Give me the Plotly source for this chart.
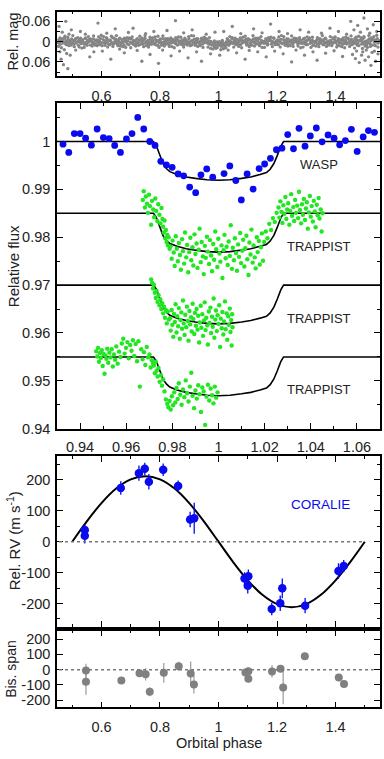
import plotly.graph_objects as go

FONT = "Liberation Sans, Arial, sans-serif"

# ---------------- Panel 1: WASP raw photometry (phase x1000, dmag in mmag)
wasp_phase_milli = [
    451, 454, 457, 459, 462, 465, 468, 470, 474, 477, 479, 482, 485, 487, 490, 493,
    495, 498, 501, 503, 506, 509, 512, 514, 518, 521, 523, 526, 529, 531, 534, 537,
    539, 542, 545, 547, 550, 553, 556, 558, 562, 565, 567, 570, 573, 575, 578, 581,
    583, 586, 589, 591, 594, 597, 600, 602, 606, 609, 611, 614, 617, 619, 622, 625,
    627, 630, 633, 635, 638, 641, 644, 646, 650, 653, 655, 658, 661, 663, 666, 669,
    671, 674, 677, 679, 682, 685, 688, 690, 694, 697, 699, 702, 705, 707, 710, 713,
    715, 718, 721, 723, 726, 729, 732, 734, 738, 741, 743, 746, 749, 751, 754, 757,
    759, 762, 765, 767, 770, 773, 776, 778, 782, 785, 787, 790, 793, 795, 798, 801,
    803, 806, 809, 811, 814, 817, 820, 822, 826, 829, 831, 834, 837, 839, 842, 845,
    847, 850, 853, 855, 858, 861, 864, 866, 870, 873, 875, 878, 881, 883, 886, 889,
    891, 894, 897, 899, 902, 905, 908, 910, 914, 917, 919, 922, 925, 927, 930, 933,
    935, 938, 941, 943, 946, 949, 952, 954, 958, 961, 963, 966, 969, 971, 974, 977,
    979, 982, 985, 987, 990, 993, 996, 998, 1002, 1005, 1007, 1010, 1013, 1015, 1018, 1021,
    1023, 1026, 1029, 1031, 1034, 1037, 1040, 1042, 1046, 1049, 1051, 1054, 1057, 1059, 1062, 1065,
    1067, 1070, 1073, 1075, 1078, 1081, 1084, 1086, 1090, 1093, 1095, 1098, 1101, 1103, 1106, 1109,
    1111, 1114, 1117, 1119, 1122, 1125, 1128, 1130, 1134, 1137, 1139, 1142, 1145, 1147, 1150, 1153,
    1155, 1158, 1161, 1163, 1166, 1169, 1172, 1174, 1178, 1181, 1183, 1186, 1189, 1191, 1194, 1197,
    1199, 1202, 1205, 1207, 1210, 1213, 1216, 1218, 1222, 1225, 1227, 1230, 1233, 1235, 1238, 1241,
    1243, 1246, 1249, 1251, 1254, 1257, 1260, 1262, 1266, 1269, 1271, 1274, 1277, 1279, 1282, 1285,
    1287, 1290, 1293, 1295, 1298, 1301, 1304, 1306, 1310, 1313, 1315, 1318, 1321, 1323, 1326, 1329,
    1331, 1334, 1337, 1339, 1342, 1345, 1348, 1350, 1354, 1357, 1359, 1362, 1365, 1367, 1370, 1373,
    1375, 1378, 1381, 1383, 1386, 1389, 1392, 1394, 1398, 1401, 1403, 1406, 1409, 1411, 1414, 1417,
    1419, 1422, 1425, 1427, 1430, 1433, 1436, 1438, 1442, 1445, 1447, 1450, 1453, 1455, 1458, 1461,
    1463, 1466, 1469, 1471, 1474, 1477, 1480, 1482, 1486, 1489, 1491, 1494, 1497, 1499, 1502, 1505,
    1507, 1510, 1513, 1515, 1518, 1521, 1524, 1526, 1530, 1533, 1535, 1538, 1541, 1543, 1546, 1549,
]
wasp_dmag_mmag = [
    3, -5, 1, 8, -2, -7, 4, 0, -10, 6, -3, 2, 9, -6, 1, -1,
    5, -8, 3, -4, 7, -2, -9, 4, 0, 11, -5, 2, -3, 6, -1, -6,
    3, 8, -11, 2, 5, -4, 1, -7, 10, -3, 0, 6, -8, 4, -2, 9,
    -5, 1, -4, 7, -1, -9, 3, 12, -6, 2, 5, -2, 1, -8, 6, -3,
    9, -5, 0, 4, -12, 7, 5, -1, -7, 2, 8, -4, 3, -10, 6, 0,
    -6, 4, 11, -2, -5, 1, 7, -3, 9, -8, 2, -9, 5, 0, -4, 10,
    -1, 6, -7, 3, 4, -3, -6, 8, 1, -2, 7, -5, -10, 3, 0, 5,
    -4, 9, 2, -7, 6, -1, -3, 4, 8, -6, 1, -2, 11, -4, 3, -8,
    0, 5, -9, 2, 6, -3, -1, 7, -5, 3, 10, -6, 1, 4, -2, -7,
    2, -4, 6, 0, -8, 9, -3, 1, 7, -1, -5, 4, -2, 8, -6, 3,
    -3, 6, 1, -9, 5, -1, 10, -4, 4, -7, 2, 6, -3, 0, -8, 5,
    1, 9, -4, -1, 7, -6, 3, -2, -8, 2, 5, -3, 8, 1, -1, 10,
    8, 4, 15, 6, 11, 2, 17, 9, 3, 11, 7, 14, 1, 10, 5, 13,
    10, 1, 8, -6, 1, -3, 6, 0, -9, 5, 2, -4, 7, -1, 3, -6,
    6, 0, -3, 9, -5, 4, -2, 1, -1, -7, 5, 2, -4, 10, -6, 3,
    8, -3, 0, -8, 4, 1, -5, 7, -2, 6, -9, 3, 5, -4, 0, -1,
    5, -1, 4, -6, 2, 8, -3, -7, -4, 7, 1, 0, -10, 3, 6, -2,
    2, -5, 9, -3, 1, -7, 4, 6, -6, 3, -2, 8, -1, 5, -8, 0,
    10, -4, 3, -5, 6, -2, 1, -9, -3, 1, 7, -1, -6, 4, -4, 5,
    4, -8, 0, 6, 2, -3, 9, -5, -7, 5, -2, 3, -4, 11, -1, 2,
    1, -3, 6, -7, 8, 0, -5, 4, -2, 9, -6, 1, 3, -8, 5, -1,
    6, -2, 4, -4, 0, 7, -9, 2, -5, 3, -1, 10, -3, 1, 4, -6,
    3, -6, 8, -2, 5, -4, 0, 7, -8, 4, 1, -3, 9, -7, 2, -1,
    5, -9, -2, 6, -5, 3, 12, -4, -3, 7, -6, 2, -11, 8, -1, 4,
    9, -4, 3, -8, 6, -2, -7, 10, -6, 2, 11, -5, 1, -9, 4, -3,
]
# wider-scatter points of the band
wasp_wide_phase_milli = [
    453, 458, 463, 467, 475, 480, 485, 489, 497, 502, 507, 511, 519, 524, 529, 533,
    541, 546, 551, 555, 563, 568, 573, 577, 585, 590, 595, 599, 607, 612, 617, 621,
    629, 634, 639, 643, 651, 656, 661, 665, 673, 678, 683, 687, 695, 700, 705, 709,
    717, 722, 727, 731, 739, 744, 749, 753, 761, 766, 771, 775, 783, 788, 793, 797,
    805, 810, 815, 819, 827, 832, 837, 841, 849, 854, 859, 863, 871, 876, 881, 885,
    893, 898, 903, 907, 915, 920, 925, 929, 937, 942, 947, 951, 959, 964, 969, 973,
    981, 986, 991, 995, 1003, 1008, 1013, 1017, 1025, 1030, 1035, 1039, 1047, 1052, 1057, 1061,
    1069, 1074, 1079, 1083, 1091, 1096, 1101, 1105, 1113, 1118, 1123, 1127, 1135, 1140, 1145, 1149,
    1157, 1162, 1167, 1171, 1179, 1184, 1189, 1193, 1201, 1206, 1211, 1215, 1223, 1228, 1233, 1237,
    1245, 1250, 1255, 1259, 1267, 1272, 1277, 1281, 1289, 1294, 1299, 1303, 1311, 1316, 1321, 1325,
    1333, 1338, 1343, 1347, 1355, 1360, 1365, 1369, 1377, 1382, 1387, 1391, 1399, 1404, 1409, 1413,
    1421, 1426, 1431, 1435, 1443, 1448, 1453, 1457, 1465, 1470, 1475, 1479, 1487, 1492, 1497, 1501,
    1509, 1514, 1519, 1523, 1531, 1536, 1541, 1545,
]
wasp_wide_dmag_mmag = [
    14, -11, 18, -9, -16, 9, -13, 12, 10, -18, 15, -8, -12, 16, -10, 19,
    17, -9, 11, -15, -8, 13, -17, 10, 12, -14, 9, -19, -15, 11, -12, 16,
    9, -16, 14, -10, -18, 12, -9, 13, 15, -10, 17, -12, -11, 18, -14, 8,
    13, -9, 11, -16, -10, 15, -18, 12, 16, -13, 8, -11, -14, 10, -16, 17,
    11, -17, 13, -9, -9, 14, -11, 15, 18, -12, 10, -14, -13, 9, 16, -10,
    10, -15, 12, -18, -17, 11, -9, 14, 12, -10, 17, -13, -8, 16, -12, 20,
    22, -2, 20, 1, 0, 24, -4, 21, 18, -9, 11, -15, -12, 16, -10, 9,
    14, -11, 18, -13, -16, 10, -9, 15, 11, -18, 13, -10, -10, 12, -15, 17,
    17, -9, 10, -12, -13, 15, -11, 9, 9, -14, 16, -18, -15, 11, -8, 13,
    12, -17, 14, -10, -9, 13, -12, 18, 16, -10, 9, -14, -11, 17, -13, 10,
    13, -12, 15, -9, -18, 9, -10, 14, 10, -15, 12, -11, -14, 16, -9, 12,
    15, -11, 18, -13, -10, 14, -17, 9, 19, -13, 11, -16, -12, 20, -15, 13,
    17, -18, 14, -11, -15, 12, -19, 16,
]
wasp_out_phase_milli = [
    455, 458, 462, 466, 470, 473, 478, 481, 485, 489, 493, 497,
    512, 528, 545, 560, 574, 588, 603, 618, 632, 647, 662, 678, 692,
    708, 722, 738, 751, 766, 779, 795, 809, 824, 838, 853, 867, 881, 896, 910, 925, 942, 958, 973, 988,
    1004, 1018, 1033, 1047, 1062, 1076, 1091, 1105, 1120, 1134, 1149, 1163, 1178, 1192, 1207, 1221,
    1236, 1250, 1265, 1279, 1294, 1308, 1323, 1337, 1352, 1366, 1381, 1395, 1410, 1424, 1438,
    1452, 1458, 1463, 1468, 1472, 1476, 1481, 1485, 1489, 1493, 1497, 1501, 1505, 1509, 1513, 1517,
    1521, 1525, 1529, 1533, 1537, 1541, 1545,
]
wasp_out_dmag_mmag = [
    -45, 30, 52, -28, 68, 24, -60, 35, 80, -22, 40, -35,
    25, -30, -22, 45, 30, -55, 28, -25, 52, -38, 22, 33, -27,
    -40, 26, 58, -24, 38, -30, 64, 25, -33, 42, -62, 28, -26, 48, -35, 30, 58, -22, 36, -28,
    40, -30, 25, -45, 33, -24, 52, 26, -38, 30, -26, 45, -52, 28, -30, 36,
    -24, 60, 25, -35, 40, -28, 30, 55, -25, 34, -40, 27, -30, 44, -22,
    -60, 38, -35, 50, 28, -48, 62, -28, 40, 30, -70, 55, 25, -38, 45, -25,
    70, 32, -50, 28, 58, -30, 36,
]

# ---------------- Panel 2: WASP binned transit
wasp_bin_phase = [
    0.9326, 0.9351, 0.9375, 0.9400, 0.9424, 0.9449, 0.9474, 0.9501, 0.9526, 0.9550,
    0.9575, 0.9601, 0.9625, 0.9650, 0.9676, 0.9702, 0.9725, 0.9750, 0.9774, 0.9799,
    0.9825, 0.9849, 0.9875, 0.9901, 0.9924, 0.9949, 0.9975, 1.0024, 1.0049, 1.0075,
    1.0099, 1.0124, 1.0150, 1.0176, 1.0200, 1.0225, 1.0251, 1.0275, 1.0300, 1.0325,
    1.0349, 1.0375, 1.0398, 1.0424, 1.0449, 1.0475, 1.0501, 1.0525, 1.0550, 1.0576,
    1.0601, 1.0627, 1.0650, 1.0676,
]
wasp_bin_flux = [
    0.99944, 0.99772, 1.00165, 1.00165, 1.00068, 0.99923, 1.00261, 1.00082, 1.00061, 0.99917,
    0.99772, 1.00054, 1.00165, 1.00503, 1.00261, 1.00000, 0.99917, 0.99586, 0.99510, 0.99461,
    0.99323, 0.99282, 0.99048, 0.98930, 0.99303, 0.99427, 0.99254, 0.99330, 0.99489, 0.99185,
    0.98779, 0.99323, 0.99006, 0.99434, 0.99530, 0.99648, 0.99827, 0.99861, 1.00144, 0.99848,
    1.00275, 0.99903, 1.00117, 1.00282, 0.99992, 1.00137, 1.00068, 0.99930, 1.00020, 1.00254,
    0.99792, 1.00096, 1.00227, 1.00192,
]

# transit model (depth below each baseline)
model_phase = [0.930, 0.9718, 0.9730, 0.9745, 0.9760, 0.9775, 0.9789, 0.9820, 0.9860, 0.9900,
               0.9950, 1.0000, 1.0050, 1.0100, 1.0140, 1.0180, 1.0208, 1.0224, 1.0240, 1.0255,
               1.0270, 1.0282, 1.070]
model_depth = [0.0, 0.0, 0.0008, 0.0029, 0.0047, 0.0057, 0.0063, 0.0069, 0.0074, 0.0077,
               0.0080, 0.0081, 0.0080, 0.0077, 0.0074, 0.0069, 0.0065, 0.0058, 0.0046, 0.0029,
               0.0010, 0.0, 0.0]
baselines = [1.000, 0.985, 0.970, 0.955]
labels = ["WASP", "TRAPPIST", "TRAPPIST", "TRAPPIST"]
label_flux = [0.99516, 0.97813, 0.9631, 0.9481]

# TRAPPIST light curve 1
t1_phase = [
    0.9672, 0.9676, 0.9681, 0.9685, 0.9690, 0.9694, 0.9699, 0.9703, 0.9708, 0.9712,
    0.9717, 0.9721, 0.9726, 0.9730, 0.9735, 0.9739, 0.9744, 0.9748, 0.9753, 0.9757,
    0.9760, 0.9763, 0.9766, 0.9769, 0.9772, 0.9775, 0.9778, 0.9781, 0.9784, 0.9788,
    0.9792, 0.9797, 0.9801, 0.9806, 0.9810, 0.9815, 0.9819, 0.9824, 0.9828, 0.9833,
    0.9837, 0.9842, 0.9846, 0.9851, 0.9855, 0.9860, 0.9864, 0.9869, 0.9873, 0.9878,
    0.9882, 0.9887, 0.9891, 0.9896, 0.9900, 0.9905, 0.9909, 0.9914, 0.9918, 0.9923,
    0.9927, 0.9932, 0.9936, 0.9941, 0.9945, 0.9950, 0.9954, 0.9959, 0.9963, 0.9968,
    0.9972, 0.9977, 0.9981, 0.9986, 0.9990, 0.9995, 0.9999, 1.0004, 1.0008, 1.0013,
    1.0017, 1.0022, 1.0026, 1.0031, 1.0035, 1.0040, 1.0044, 1.0049, 1.0053, 1.0058,
    1.0062, 1.0067, 1.0071, 1.0076, 1.0080, 1.0085, 1.0089, 1.0094, 1.0098, 1.0103,
    1.0107, 1.0112, 1.0116, 1.0121, 1.0125, 1.0130, 1.0134, 1.0139, 1.0143, 1.0148,
    1.0152, 1.0157, 1.0161, 1.0166, 1.0170, 1.0175, 1.0179, 1.0184, 1.0188, 1.0193,
    1.0198, 1.0205, 1.0212, 1.0220, 1.0228, 1.0236, 1.0244, 1.0252,
    1.0260, 1.0264, 1.0268, 1.0273, 1.0277, 1.0281, 1.0285, 1.0290, 1.0294, 1.0298,
    1.0302, 1.0307, 1.0311, 1.0315, 1.0319, 1.0324, 1.0328, 1.0332, 1.0336, 1.0341,
    1.0345, 1.0349, 1.0353, 1.0358, 1.0362, 1.0366, 1.0370, 1.0375, 1.0379, 1.0383,
    1.0387, 1.0392, 1.0396, 1.0400, 1.0404, 1.0409, 1.0413, 1.0417, 1.0421, 1.0426,
    1.0430, 1.0434, 1.0438, 1.0443, 1.0447, 1.0451,
]
t1_flux = [
    0.9878, 0.9896, 0.9862, 0.9885, 0.9870, 0.9851, 0.9889, 0.9865, 0.9826, 0.9876,
    0.9858, 0.9842, 0.9881, 0.9855, 0.9834, 0.9869, 0.9847, 0.9829, 0.9861, 0.9838,
    0.9822, 0.9810, 0.9835, 0.9798, 0.9815, 0.9790, 0.9805, 0.9783, 0.9800, 0.9776,
    0.9781, 0.9755, 0.9793, 0.9768, 0.9740, 0.9802, 0.9776, 0.9750, 0.9788, 0.9763,
    0.9732, 0.9796, 0.9771, 0.9745, 0.9810, 0.9758, 0.9784, 0.9727, 0.9769, 0.9799,
    0.9752, 0.9779, 0.9741, 0.9806, 0.9765, 0.9787, 0.9736, 0.9774, 0.9818, 0.9748,
    0.9790, 0.9760, 0.9723, 0.9782, 0.9757, 0.9801, 0.9770, 0.9744, 0.9794, 0.9762,
    0.9729, 0.9786, 0.9753, 0.9812, 0.9775, 0.9738, 0.9797, 0.9766, 0.9749, 0.9783,
    0.9715, 0.9773, 0.9805, 0.9756, 0.9780, 0.9742, 0.9791, 0.9761, 0.9825, 0.9734,
    0.9778, 0.9752, 0.9798, 0.9767, 0.9730, 0.9785, 0.9759, 0.9809, 0.9746, 0.9772,
    0.9795, 0.9739, 0.9777, 0.9803, 0.9754, 0.9721, 0.9789, 0.9764, 0.9816, 0.9747,
    0.9783, 0.9758, 0.9735, 0.9800, 0.9769, 0.9792, 0.9743, 0.9779, 0.9808, 0.9751,
    0.9790, 0.9812, 0.9798, 0.9828, 0.9815, 0.9840, 0.9832, 0.9851,
    0.9862, 0.9841, 0.9875, 0.9853, 0.9830, 0.9867, 0.9849, 0.9884, 0.9838, 0.9858,
    0.9871, 0.9826, 0.9855, 0.9890, 0.9845, 0.9863, 0.9834, 0.9878, 0.9851, 0.9866,
    0.9840, 0.9895, 0.9857, 0.9829, 0.9869, 0.9847, 0.9880, 0.9836, 0.9860, 0.9873,
    0.9818, 0.9852, 0.9886, 0.9843, 0.9865, 0.9833, 0.9876, 0.9854, 0.9821, 0.9868,
    0.9846, 0.9882, 0.9839, 0.9858, 0.9812, 0.9850,
]

# TRAPPIST light curve 2
t2_phase = [
    0.9708, 0.9712, 0.9716, 0.9720, 0.9724, 0.9728, 0.9732, 0.9736, 0.9740, 0.9744,
    0.9748, 0.9752, 0.9756, 0.9760, 0.9764, 0.9768, 0.9772, 0.9776, 0.9780, 0.9785,
    0.9790, 0.9793, 0.9797, 0.9800, 0.9804, 0.9807, 0.9811, 0.9814, 0.9818, 0.9821,
    0.9825, 0.9828, 0.9832, 0.9835, 0.9839, 0.9842, 0.9846, 0.9849, 0.9853, 0.9856,
    0.9860, 0.9863, 0.9867, 0.9870, 0.9874, 0.9877, 0.9881, 0.9884, 0.9888, 0.9891,
    0.9895, 0.9898, 0.9902, 0.9905, 0.9909, 0.9912, 0.9916, 0.9919, 0.9923, 0.9926,
    0.9930, 0.9933, 0.9937, 0.9940, 0.9944, 0.9947, 0.9951, 0.9954, 0.9958, 0.9961,
    0.9965, 0.9968, 0.9972, 0.9975, 0.9979, 0.9982, 0.9986, 0.9989, 0.9993, 0.9996,
    1.0000, 1.0003, 1.0007, 1.0010, 1.0014, 1.0017, 1.0021, 1.0024, 1.0028, 1.0031,
    1.0035, 1.0038, 1.0042, 1.0045, 1.0049, 1.0052, 1.0055, 1.0057, 1.0059, 1.0061,
]
t2_flux = [
    0.9712, 0.9705, 0.9693, 0.9701, 0.9684, 0.9673, 0.9688, 0.9665, 0.9679, 0.9658,
    0.9670, 0.9650, 0.9662, 0.9641, 0.9655, 0.9632, 0.9648, 0.9620, 0.9645, 0.9628,
    0.9631, 0.9605, 0.9648, 0.9617, 0.9592, 0.9640, 0.9623, 0.9660, 0.9601, 0.9635,
    0.9614, 0.9652, 0.9588, 0.9627, 0.9643, 0.9609, 0.9668, 0.9620, 0.9596, 0.9638,
    0.9612, 0.9655, 0.9625, 0.9584, 0.9646, 0.9618, 0.9633, 0.9603, 0.9661, 0.9629,
    0.9598, 0.9642, 0.9615, 0.9650, 0.9607, 0.9636, 0.9580, 0.9622, 0.9657, 0.9611,
    0.9639, 0.9594, 0.9626, 0.9664, 0.9606, 0.9632, 0.9616, 0.9576, 0.9645, 0.9621,
    0.9653, 0.9600, 0.9634, 0.9613, 0.9672, 0.9590, 0.9628, 0.9647, 0.9604, 0.9637,
    0.9619, 0.9658, 0.9571, 0.9630, 0.9610, 0.9644, 0.9597, 0.9624, 0.9666, 0.9608,
    0.9641, 0.9586, 0.9635, 0.9617, 0.9651, 0.9602, 0.9627, 0.9574, 0.9639, 0.9612,
]

# TRAPPIST light curve 3
t3_phase = [
    0.9470, 0.9474, 0.9478, 0.9482, 0.9486, 0.9490, 0.9494, 0.9498, 0.9502, 0.9506,
    0.9510, 0.9514, 0.9518, 0.9522, 0.9527, 0.9532, 0.9537, 0.9542, 0.9547, 0.9552,
    0.9557, 0.9563, 0.9569, 0.9575, 0.9581, 0.9587, 0.9593, 0.9599, 0.9605, 0.9611,
    0.9617, 0.9623, 0.9629, 0.9635, 0.9641, 0.9647, 0.9653, 0.9659, 0.9665, 0.9671,
    0.9677, 0.9683, 0.9689, 0.9695, 0.9701, 0.9706, 0.9711, 0.9716,
    0.9720, 0.9724, 0.9728, 0.9732, 0.9736, 0.9740, 0.9745, 0.9750, 0.9755, 0.9760,
    0.9766, 0.9772, 0.9778, 0.9783, 0.9788, 0.9793, 0.9798, 0.9803, 0.9808, 0.9813,
    0.9818, 0.9823, 0.9828, 0.9834, 0.9840, 0.9846, 0.9852, 0.9858, 0.9864, 0.9870,
    0.9876, 0.9882, 0.9888, 0.9894, 0.9900, 0.9906, 0.9912, 0.9918, 0.9924, 0.9930,
    0.9936, 0.9942, 0.9948, 0.9954, 0.9960, 0.9966, 0.9972, 0.9978, 0.9984, 0.9990, 0.9996,
]
t3_flux = [
    0.9562, 0.9551, 0.9569, 0.9540, 0.9558, 0.9548, 0.9564, 0.9531, 0.9556, 0.9515,
    0.9553, 0.9546, 0.9567, 0.9538, 0.9559, 0.9549, 0.9566, 0.9530, 0.9555, 0.9544,
    0.9572, 0.9536, 0.9561, 0.9550, 0.9578, 0.9588, 0.9557, 0.9569, 0.9581, 0.9547,
    0.9575, 0.9563, 0.9585, 0.9552, 0.9577, 0.9541, 0.9583, 0.9488, 0.9566, 0.9545,
    0.9560, 0.9533, 0.9571, 0.9549, 0.9555, 0.9528, 0.9543, 0.9537,
    0.9532, 0.9516, 0.9540, 0.9521, 0.9509, 0.9527, 0.9498, 0.9512, 0.9490, 0.9503,
    0.9478, 0.9461, 0.9452, 0.9445, 0.9458, 0.9440, 0.9468, 0.9449, 0.9476, 0.9455,
    0.9485, 0.9462, 0.9495, 0.9471, 0.9450, 0.9482, 0.9466, 0.9501, 0.9474, 0.9457,
    0.9488, 0.9517, 0.9469, 0.9443, 0.9480, 0.9463, 0.9491, 0.9472, 0.9435, 0.9486,
    0.9478, 0.9408, 0.9467, 0.9492, 0.9459, 0.9484, 0.9470, 0.9453, 0.9488, 0.9465, 0.9476,
]

# ---------------- Panel 3: CORALIE radial velocities
rv_phase = [0.543, 0.543, 0.666, 0.728, 0.748, 0.762, 0.811, 0.862, 0.903, 0.917,
            1.089, 1.102, 1.100, 1.182, 1.211, 1.218, 1.296, 1.410, 1.428]
rv_value = [38, 19, 174, 222, 236, 194, 233, 180, 72, 76,
            -119, -112, -143, -218, -199, -151, -207, -95, -79]
rv_error = [18, 25, 22, 25, 20, 25, 20, 18, 25, 50,
            20, 22, 25, 20, 25, 32, 25, 25, 20]
rv_model_phase = [0.50, 0.55, 0.60, 0.65, 0.70, 0.75, 0.80, 0.85, 0.90, 0.95, 1.00,
                  1.05, 1.10, 1.15, 1.20, 1.25, 1.30, 1.35, 1.40, 1.45, 1.50]
rv_model_value = [0, 66, 125, 172, 202, 212, 202, 172, 125, 66, 0,
                  -66, -125, -172, -202, -212, -202, -172, -125, -66, 0]

# ---------------- Panel 4: bisector spans
bis_phase = [0.547, 0.547, 0.668, 0.730, 0.751, 0.765, 0.813, 0.864, 0.905, 0.916,
             1.092, 1.102, 1.102, 1.183, 1.212, 1.221, 1.295, 1.411, 1.429]
bis_value = [-6, -80, -71, -24, -31, -145, -21, 22, -26, -97,
             -18, -10, -60, -12, 5, -117, 87, -52, -95]
bis_error = [45, 85, 10, 20, 40, 30, 65, 30, 80, 60,
             10, 15, 20, 40, 15, 110, 5, 15, 15]

# ---------------- derived (unit conversion / vertical offsets)
raw_phase = [p / 1000 for p in wasp_phase_milli + wasp_wide_phase_milli + wasp_out_phase_milli]
raw_dmag = [m / 1000 for m in wasp_dmag_mmag + wasp_wide_dmag_mmag + wasp_out_dmag_mmag]

GREY = "#858585"
BLUE = "#0a0af0"
GREEN = "#22e622"
TXT = "#222222"

fig = go.Figure()

# panel 1
fig.add_trace(go.Scatter(x=raw_phase, y=raw_dmag,
                         mode="markers", marker=dict(size=3.3, color=GREY),
                         xaxis="x", yaxis="y", hoverinfo="skip"))
# panel 2
for base in baselines:
    fig.add_trace(go.Scatter(x=model_phase, y=[base - d for d in model_depth], mode="lines",
                             line=dict(color="black", width=1.6), xaxis="x2", yaxis="y2"))
for ph, fl in [(t1_phase, t1_flux), (t2_phase, t2_flux), (t3_phase, t3_flux)]:
    fig.add_trace(go.Scatter(x=ph, y=fl, mode="markers", marker=dict(size=4.4, color=GREEN),
                             xaxis="x2", yaxis="y2"))
fig.add_trace(go.Scatter(x=wasp_bin_phase, y=wasp_bin_flux, mode="markers",
                         marker=dict(size=6.8, color=BLUE), xaxis="x2", yaxis="y2"))
# panel 3
fig.add_trace(go.Scatter(x=rv_model_phase, y=rv_model_value, mode="lines",
                         line=dict(color="black", width=2, shape="spline"), xaxis="x3", yaxis="y3"))
fig.add_trace(go.Scatter(x=rv_phase, y=rv_value, mode="markers",
                         marker=dict(size=8.5, color=BLUE),
                         error_y=dict(type="data", array=rv_error, color=BLUE, thickness=1.3, width=0),
                         xaxis="x3", yaxis="y3"))
# panel 4
fig.add_trace(go.Scatter(x=bis_phase, y=bis_value, mode="markers",
                         marker=dict(size=8, color="#808080"),
                         error_y=dict(type="data", array=bis_error, color="#9a9a9a", thickness=1.2, width=0),
                         xaxis="x4", yaxis="y4"))

XR = [0.448, 1.552]
common = dict(showline=True, linecolor="black", linewidth=1.5, mirror="allticks",
              ticks="inside", ticklen=6, tickwidth=1.4, tickcolor="black",
              showgrid=False, zeroline=False,
              tickfont=dict(family=FONT, size=14.5, color=TXT))


def ax(**kw):
    d = dict(common)
    d.update(kw)
    return d


minor_x = dict(ticks="inside", ticklen=3, tickwidth=1.2, tickcolor="black", tickmode="linear", tick0=0, dtick=0.1)
rv_ticks = [-200, -100, 0, 100, 200]
rv_text = ["-200", "-100", "0", "100", "200"]

fig.update_layout(
    width=384, height=759,
    margin=dict(l=57, r=4, t=0, b=0, pad=0),
    paper_bgcolor="white", plot_bgcolor="white",
    showlegend=False,
    font=dict(family=FONT, color=TXT),
    xaxis=ax(domain=[0, 1], anchor="y", range=XR, tickmode="linear", tick0=0, dtick=0.2,
             minor=minor_x, ticklabelstandoff=5),
    yaxis=ax(domain=[0.8982, 0.9846], anchor="x", range=[0.103, -0.089],
             tickmode="array", tickvals=[-0.06, 0, 0.06], ticktext=["-0.06", "0", "0.06"],
             minor=dict(ticks="inside", ticklen=3, tickwidth=1.2, tickcolor="black",
                        tickmode="linear", tick0=0, dtick=0.03), ticklabelstandoff=2),
    xaxis2=ax(domain=[0, 1], anchor="y2", range=[0.93, 1.07], tickmode="linear", tick0=0, dtick=0.02,
              minor=dict(ticks="inside", ticklen=3, tickwidth=1.2, tickcolor="black",
                         tickmode="linear", tick0=0, dtick=0.01), ticklabelstandoff=4),
    yaxis2=ax(domain=[0.4291, 0.8626], anchor="x2", range=[0.94, 1.008], tickmode="linear",
              tick0=0, dtick=0.01,
              minor=dict(ticks="inside", ticklen=3, tickwidth=1.2, tickcolor="black",
                         tickmode="linear", tick0=0, dtick=0.005), ticklabelstandoff=2),
    xaxis3=ax(domain=[0, 1], anchor="y3", range=XR, tickmode="linear", tick0=0, dtick=0.2,
              minor=minor_x, showticklabels=False),
    yaxis3=ax(domain=[0.1656, 0.3930], anchor="x3", range=[-275, 278], tickmode="array",
              tickvals=rv_ticks, ticktext=rv_text,
              minor=dict(ticks="inside", ticklen=3, tickwidth=1.2, tickcolor="black",
                         tickmode="linear", tick0=0, dtick=50), ticklabelstandoff=2),
    xaxis4=ax(domain=[0, 1], anchor="y4", range=XR, tickmode="linear", tick0=0, dtick=0.2,
              minor=minor_x, ticklabelstandoff=5),
    yaxis4=ax(domain=[0.0580, 0.1603], anchor="x4", range=[-248, 256], tickmode="array",
              tickvals=rv_ticks, ticktext=rv_text, ticklabelstandoff=2),
)

# dotted zero lines
fig.add_shape(type="line", xref="x3", yref="y3", x0=0.455, x1=1.5, y0=0, y1=0,
              line=dict(color="#777777", width=1.5, dash="dot"))
fig.add_shape(type="line", xref="x4", yref="y4", x0=0.455, x1=1.53, y0=0, y1=0,
              line=dict(color="#777777", width=1.5, dash="dot"))

# curve labels
for txt, yv in zip(labels, label_flux):
    fig.add_annotation(x=1.0437, y=yv, xref="x2", yref="y2", text=txt, showarrow=False,
                       font=dict(family=FONT, size=13, color=TXT))
fig.add_annotation(x=1.35, y=120, xref="x3", yref="y3", text="CORALIE", showarrow=False,
                   font=dict(family=FONT, size=13.5, color=BLUE))


# axis titles
def ytitle(text, ypx, xpx=12, size=14.5):
    fig.add_annotation(x=(xpx - 57) / 323, y=1 - ypx / 759, xref="paper", yref="paper",
                       text=text, textangle=-90, showarrow=False,
                       xanchor="center", yanchor="middle",
                       font=dict(family=FONT, size=size, color=TXT))


ytitle("Rel. mag", 42, 13)
ytitle("Relative flux", 269, 13, 15)
ytitle("Rel. RV (m s<sup>-1</sup>)", 547, 13, 15)
ytitle("Bis. span", 676, 11, 14)
fig.add_annotation(x=(219 - 57) / 323, y=1 - 751 / 759, xref="paper", yref="paper",
                   text="Orbital phase", showarrow=False, xanchor="center", yanchor="middle",
                   font=dict(family=FONT, size=14.5, color=TXT))

fig.write_html("out.html")
